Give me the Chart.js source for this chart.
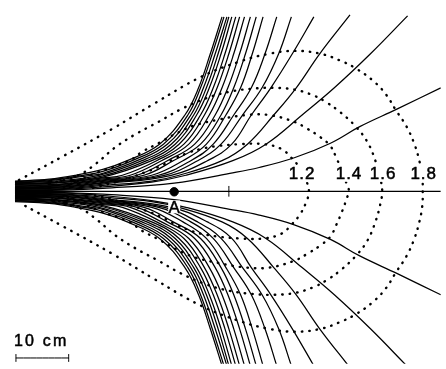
<!DOCTYPE html>
<html>
<head>
<script src="https://cdn.jsdelivr.net/npm/chart.js@4.4.0/dist/chart.umd.min.js"></script>
<style>body{margin:0;background:#fff}</style>
</head>
<body>
<canvas id="c" width="446" height="369"></canvas>
<script>
// figure units: 5.4 units = 1 cm, symmetry axis at y = 191.5
var axisY = 191.5;

// upper half field lines (lower half is the mirror image)
var fieldLinesUpper = [
  [[10,181],[45,179],[72,175],[100,169],[125,160],[158,143],[184,113],[198,85],[210,50],[222,12]],
  [[10,181.6],[45,179.8],[80,175],[100,171],[130,160],[162,143],[187,113],[200,85],[212,50],[224,12]],
  [[10,182.2],[45,180.5],[88,175],[100,173],[135,160],[166,143],[190,113],[203,85],[215,50],[227,12]],
  [[10,182.8],[50,181],[96,175],[140,160],[170,143],[193,113],[206,85],[218,50],[229,12]],
  [[10,183.4],[50,182],[100,175.6],[145,160],[174,143],[196,113],[209,85],[221,50],[232,12]],
  [[10,184],[50,182.6],[100,176.8],[150,160],[178,143],[200,113],[213,85],[225,50],[236,12]],
  [[10,184.6],[50,183.2],[100,177.8],[120,175],[155,160],[183,143],[204,113],[217,85],[229,50],[240,12]],
  [[10,185.2],[55,184],[100,178.8],[128,175],[160,160],[188,143],[209,113],[222,85],[234,50],[245,12]],
  [[10,185.8],[55,184.6],[100,179.7],[135,175],[166,160],[194,143],[215,113],[228,85],[240,50],[251,12]],
  [[10,186.4],[55,185.3],[100,180.5],[142,175],[172,160],[200,143],[221,113],[234,85],[246,50],[257,12]],
  [[10,187],[60,186],[100,181.3],[150,175],[182,160],[206,143],[226,113],[241,85],[253,50],[264,12]],
  [[10,187.6],[60,186.6],[100,182.2],[157,175],[190,160],[213,143],[234,113],[252,85],[266,50],[278,12]],
  [[10,188.2],[60,187.3],[100,183],[163,175],[197,160],[221,143],[243,113],[263,85],[280,50],[293,12]],
  [[10,188.8],[60,188],[100,184],[170,175],[207,160],[232,143],[252,113],[272,85],[294,50],[316,12]],
  [[10,189.4],[60,188.7],[100,185.5],[150,181],[178,175],[222,160],[248,143],[275,113],[298,85],[322,50],[353,10]],
  [[10,190],[60,189.5],[100,187],[150,182],[185,175],[233,160],[267,143],[304,113],[337,85],[374,50],[412,11]],
  [[10,190.5],[60,190.2],[100,188.5],[173,183],[230,173],[260,167],[296,157],[333,142],[363,125],[401,107],[446,85]]
];

// dotted loops, upper half from the source to the axis
var loop12 = [[90,188],[120,180],[143,172],[160,165],[175,157],[187,152],[200,148],[217,145],[240,143],[265,143],[283,148],[293,157],[302,168],[308,180],[311,191.5]];
var loop14 = [[60,187],[95,172],[127,160],[140,151],[157,142],[175,132],[193,124],[217,118],[247,113],[270,113],[296,120],[309,127],[323,136],[333,145],[339,157],[345,171],[350,185],[352,191.5]];
var loop16 = [[45,184],[75,175],[93,163],[113,146],[133,133],[157,120],[180,107],[205,96],[230,89],[252,86],[275,85],[297,87],[316,93],[329,100],[343,110],[359,125],[371,141],[379,160],[384,178],[386,191.5]];
var loop18 = [[14,180],[60,155],[110,127],[153,101],[200,74],[240,58],[270,50],[297,47],[323,50],[343,57],[359,65],[377,78],[390,92],[400,108],[411,125],[419,143],[424,160],[427,176],[427.5,191.5]];

var loopLabels = ['1.2', '1.4', '1.6', '1.8'];
var loopLabelX = [303.5, 351.5, 386.5, 428];

var pointA = [173, 192];
var scaleBarCm = 10;
var unitsPerCm = 5.4;

function mirror(pts) {
  return pts.map(function (p) { return [p[0], 2 * axisY - p[1]]; });
}
function toXY(pts) {
  return pts.map(function (p) { return {x: p[0], y: p[1]}; });
}
function solid(pts, w) {
  return {data: toXY(pts), showLine: true, pointRadius: 0, borderColor: '#000',
          borderWidth: w || 1.25, tension: 0.4, fill: false};
}
function dotted(upper) {
  var full = upper.concat(mirror(upper).reverse().slice(1));
  return {data: toXY(full), showLine: true, pointRadius: 0, borderColor: '#000',
          borderWidth: 2.4, borderDash: [0.5, 7], borderCapStyle: 'round', tension: 0.4, fill: false};
}

var datasets = [];
fieldLinesUpper.forEach(function (l) {
  datasets.push(solid(l));
  datasets.push(solid(mirror(l)));
});
datasets.push(solid([[10, axisY], [446, axisY]], 1.3));
datasets.push(solid([[229, 186], [229, 197]], 1));
[loop12, loop14, loop16, loop18].forEach(function (l) { datasets.push(dotted(l)); });
datasets.push({data: [{x: pointA[0], y: pointA[1]}], pointRadius: 4.2, pointBackgroundColor: '#000',
               pointBorderColor: '#000', showLine: false});
// scale bar
var barX0 = 11, barY = 363;
var barX1 = barX0 + scaleBarCm * unitsPerCm;
datasets.push(solid([[barX0, barY], [barX1, barY]], 1));
datasets.push(solid([[barX0, barY - 4], [barX0, barY + 4]], 1));
datasets.push(solid([[barX1, barY - 4], [barX1, barY + 4]], 1));

function boldText(c, t, x, y) {
  c.fillText(t, x, y);
  c.strokeText(t, x, y);
}

var textPlugin = {
  id: 'texts',
  beforeDraw: function (chart) {
    var c = chart.ctx;
    c.save();
    c.fillStyle = '#fff';
    c.fillRect(0, 0, chart.width, chart.height);
    c.restore();
  },
  afterDatasetsDraw: function (chart) {
    var c = chart.ctx, xs = chart.scales.x, ys = chart.scales.y;
    c.save();
    c.font = '17px "Liberation Sans", Arial, sans-serif';
    c.textAlign = 'center';
    c.textBaseline = 'middle';
    c.strokeStyle = '#000';
    c.lineWidth = 0.5;
    c.letterSpacing = '1px';
    loopLabels.forEach(function (t, i) {
      var px = xs.getPixelForValue(loopLabelX[i]);
      var py = ys.getPixelForValue(173.5);
      var w = c.measureText(t).width + 2;
      c.fillStyle = '#fff';
      c.fillRect(px - w / 2, py - 8, w, 16);
      c.fillStyle = '#000';
      boldText(c, t, px + 0.5, py + 1);
    });
    c.letterSpacing = '0px';
    var ax = xs.getPixelForValue(pointA[0]), ay = ys.getPixelForValue(207.5);
    c.fillStyle = '#fff';
    c.fillRect(ax - 6, ay - 6.5, 12, 13);
    c.fillStyle = '#000';
    boldText(c, 'A', ax, ay + 1);
    c.textAlign = 'left';
    c.font = '16px "Liberation Sans", Arial, sans-serif';
    c.letterSpacing = '2.2px';
    boldText(c, scaleBarCm + ' cm', xs.getPixelForValue(9), ys.getPixelForValue(346.5));
    c.restore();
  }
};

new Chart(document.getElementById('c'), {
  type: 'scatter',
  data: {datasets: datasets},
  options: {
    responsive: false,
    animation: false,
    layout: {padding: 0},
    plugins: {legend: {display: false}, tooltip: {enabled: false}},
    scales: {
      x: {type: 'linear', min: 0, max: 446, display: false},
      y: {type: 'linear', min: 0, max: 369, reverse: true, display: false}
    }
  },
  plugins: [textPlugin]
});
</script>
</body>
</html>
